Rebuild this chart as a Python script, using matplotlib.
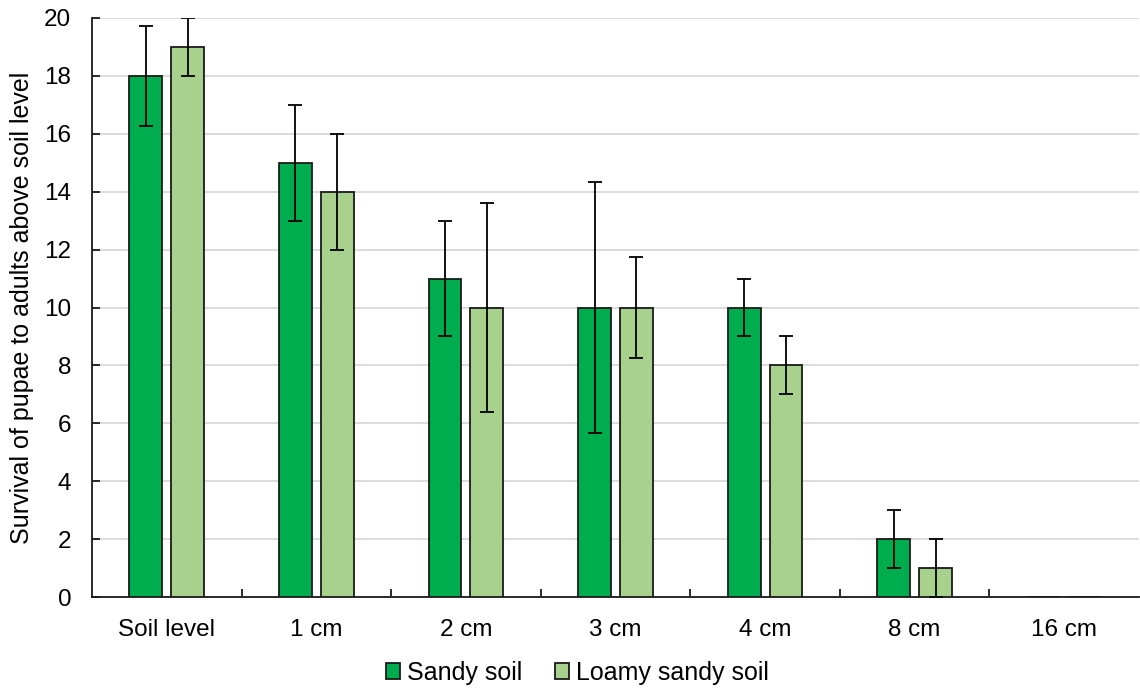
import matplotlib
matplotlib.use("Agg")
import matplotlib.pyplot as plt
import numpy as np

categories = ["Soil level", "1 cm", "2 cm", "3 cm", "4 cm", "8 cm", "16 cm"]
sandy = [18, 15, 11, 10, 10, 2, 0]
sandy_err = [1.73, 2, 2, 4.33, 1, 1, 0]
loamy = [19, 14, 10, 10, 8, 1, 0]
loamy_err = [1, 2, 3.6, 1.73, 1, 1, 0]
series_names = ["Sandy soil", "Loamy sandy soil"]
yticks = [0, 2, 4, 6, 8, 10, 12, 14, 16, 18, 20]

plt.rcParams['font.family'] = ['Liberation Sans', 'DejaVu Sans']

fig = plt.figure(figsize=(11.4, 6.88), dpi=100)
ax = fig.add_axes([92/1140, 1-597/688, (1139-92)/1140, (597-18)/688])

x = np.arange(len(categories))
w = 0.22
off = 0.14
n = len(categories)
ax.bar(x - off, sandy, w, color="#00ad4e", edgecolor="#1a1a1a", linewidth=1.3, label=series_names[0], zorder=3)
ax.bar(x + off, loamy, w, color="#a9d18e", edgecolor="#1a1a1a", linewidth=1.3, label=series_names[1], zorder=3)
ex = [i for i in range(n) if sandy_err[i] > 0]
ax.errorbar(x[ex] - off, np.array(sandy)[ex], yerr=np.array(sandy_err)[ex], fmt="none", ecolor="black", elinewidth=1.3, capsize=5, capthick=1.3, zorder=4)
ex = [i for i in range(n) if loamy_err[i] > 0]
ax.errorbar(x[ex] + off, np.array(loamy)[ex], yerr=np.array(loamy_err)[ex], fmt="none", ecolor="black", elinewidth=1.3, capsize=5, capthick=1.3, zorder=4)

ax.set_xlim(-0.5, n - 0.5)
ax.set_ylim(0, 20)
ax.set_yticks(yticks)
ax.yaxis.grid(True, color="#d9d9d9", linewidth=1.3, zorder=0)
ax.set_axisbelow(True)
for s in ["top", "right"]:
    ax.spines[s].set_visible(False)
ax.spines["left"].set_color("#1a1a1a")
ax.spines["bottom"].set_color("#1a1a1a")
ax.spines["left"].set_linewidth(1.3)
ax.spines["bottom"].set_linewidth(1.3)

ax.set_xticks(x)
ax.set_xticklabels(categories, fontsize=17.5)
ax.tick_params(axis="x", length=0, pad=16)
ax.set_xticks(np.arange(0.5, n - 1, 1), minor=True)
ax.tick_params(axis="x", which="minor", direction="in", length=6, width=1.3, color="#1a1a1a")
ax.tick_params(axis="y", labelsize=17.5, length=6, width=1.3, color="#1a1a1a", direction="in", pad=15)
ax.set_ylabel("Survival of pupae to adults above soil level", fontsize=18, labelpad=7)

leg = ax.legend(loc="center", bbox_to_anchor=(0.5 - 0.036, -0.131), ncol=2, frameon=False,
                fontsize=18, handlelength=0.55, handleheight=0.55, handletextpad=0.3, columnspacing=1.3)
fig.savefig("out.png", dpi=100)
